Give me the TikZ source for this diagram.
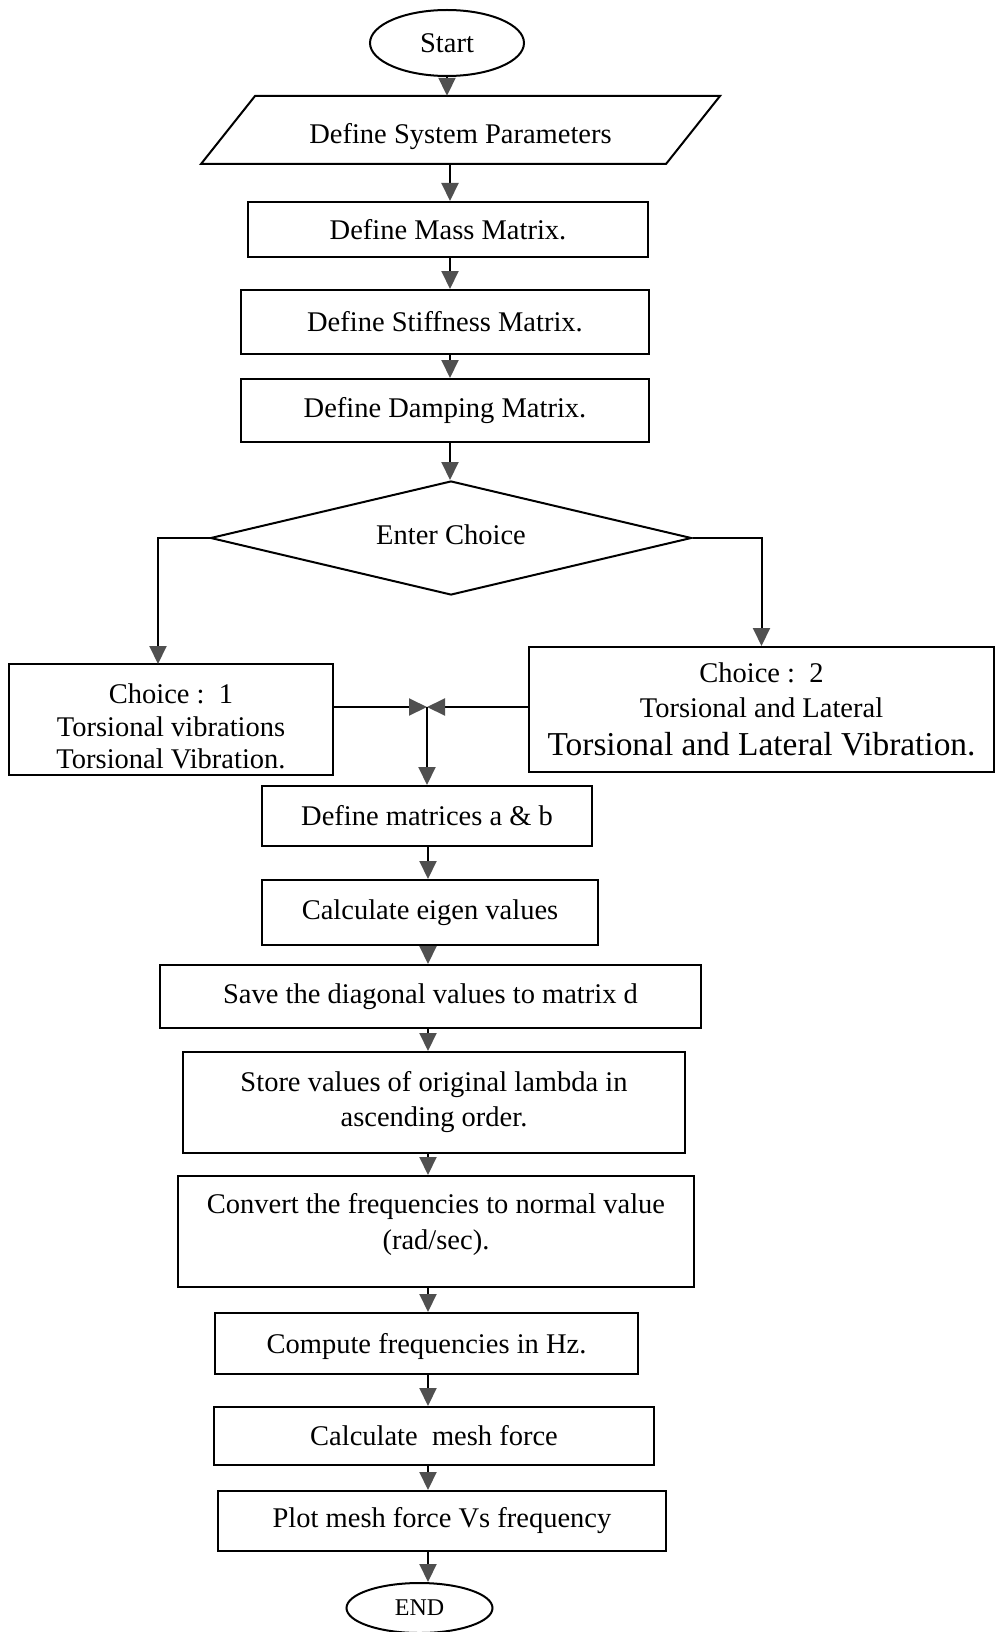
\documentclass[tikz,border=0pt]{standalone}
\usepackage{fontspec}
\setmainfont{Liberation Serif}
\usetikzlibrary{shapes.geometric,arrows.meta,calc}
\definecolor{tipgray}{HTML}{505050}
\newcommand{\shiftv}[2]{\raisebox{#1}[\height][\depth]{#2}}
\begin{document}
\begin{tikzpicture}[x=1pt,y=1pt,
  every node/.style={font=\fontsize{28.5}{35}\selectfont, inner sep=0pt},
  box/.style={draw, line width=2pt, rectangle, align=center},
  term/.style={draw, line width=2pt, ellipse},
  arr/.style={line width=2pt, -{Triangle[length=18pt,width=17pt,color=tipgray]}},
  ln/.style={line width=2pt, line join=miter}]
\useasboundingbox (0,0) rectangle (995,-1632);

% nodes
\node[term, minimum width=154pt, minimum height=66pt] (start) at (447,-43) {Start};
\node[minimum width=465pt, minimum height=68pt] (param) at (460.5,-130) {\shiftv{-7pt}{Define System Parameters}};
\draw[ln] (255,-96) -- (720,-96) -- (666,-164) -- (201,-164) -- cycle;
\node[box, minimum width=400pt, minimum height=55pt] (mass) at (448,-229.5) {Define Mass Matrix.};
\node[box, minimum width=408pt, minimum height=64pt] (stiff) at (445,-322) {Define Stiffness Matrix.};
\node[box, minimum width=408pt, minimum height=63pt] (damp) at (445,-410.5) {Define Damping Matrix.};
\node[draw, diamond, line width=2pt, aspect=4.2, minimum width=481pt, minimum height=114pt] (ch) at (451,-538) {\shiftv{3pt}{Enter Choice}};
\node[box, minimum width=324pt, minimum height=111pt] (c1) at (171,-719.5)
  {\shiftv{-7pt}{\parbox{310pt}{\centering\fontsize{28.5}{32.5}\selectfont Choice :\ \ 1\\Torsional vibrations\\Torsional Vibration.}}};
\node[box, minimum width=465pt, minimum height=125pt] (c2) at (761.5,-709.5)
  {Choice :\ \ 2\\Torsional and Lateral\\[3pt]{\fontsize{33.4}{38}\selectfont Torsional and Lateral Vibration.}};
\node[box, minimum width=330pt, minimum height=60pt] (defmat) at (427,-816) {Define matrices a \& b};
\node[box, minimum width=336pt, minimum height=65pt] (eigen) at (430,-912.5) {Calculate eigen values};
\node[box, minimum width=541pt, minimum height=63pt] (save) at (430.5,-996.5) {Save the diagonal values to matrix d};
\node[box, minimum width=502pt, minimum height=101pt] (store) at (434,-1102.5) {Store values of original lambda in\\ascending order.};
\node[box, minimum width=516pt, minimum height=111pt] (conv) at (436,-1231.5) {\shiftv{7pt}{\parbox{500pt}{\centering\fontsize{28.5}{36}\selectfont Convert the frequencies to normal value\\(rad/sec).}}};
\node[box, minimum width=423pt, minimum height=61pt] (hz) at (426.5,-1343.5) {\shiftv{-3pt}{Compute frequencies in Hz.}};
\node[box, minimum width=440pt, minimum height=58pt] (mesh) at (434,-1436) {Calculate\ \ mesh force};
\node[box, minimum width=448pt, minimum height=60pt] (plot) at (442,-1521) {Plot mesh force Vs frequency};
\node[term, minimum width=146pt, minimum height=50pt, font=\fontsize{24}{28}\selectfont] (end) at (419.5,-1608) {END};

% column coordinates
\coordinate (ca) at (450,0);
\coordinate (cb) at (428,0);
\coordinate (j) at (427,-707);
\coordinate (l1) at (158,-664);

% connectors
\draw[arr] (start.south) -- (start.south |- param.north);
\draw[arr] (param.south -| ca) -- (mass.north -| ca);
\draw[arr] (mass.south -| ca) -- (stiff.north -| ca);
\draw[arr] (stiff.south -| ca) -- (damp.north -| ca);
\draw[arr] (damp.south -| ca) -- (ch.north -| ca);
\draw[arr] (ch.west) -| (l1);
\draw[arr] (ch.east) -| (c2.north);
\draw[arr] (c1.east |- j) -- (j);
\draw[arr] (c2.west |- j) -- (j);
\draw[arr] (j) -- (defmat.north -| j);
\draw[arr] (defmat.south -| cb) -- (eigen.north -| cb);
\draw[arr] (eigen.south -| cb) -- (save.north -| cb);
\draw[arr] (save.south -| cb) -- (store.north -| cb);
\draw[arr] (store.south -| cb) -- (conv.north -| cb);
\draw[arr] (conv.south -| cb) -- (hz.north -| cb);
\draw[arr] (hz.south -| cb) -- (mesh.north -| cb);
\draw[arr] (mesh.south -| cb) -- (plot.north -| cb);
\draw[arr] (plot.south -| cb) -- (end.north -| cb);
\end{tikzpicture}
\end{document}
